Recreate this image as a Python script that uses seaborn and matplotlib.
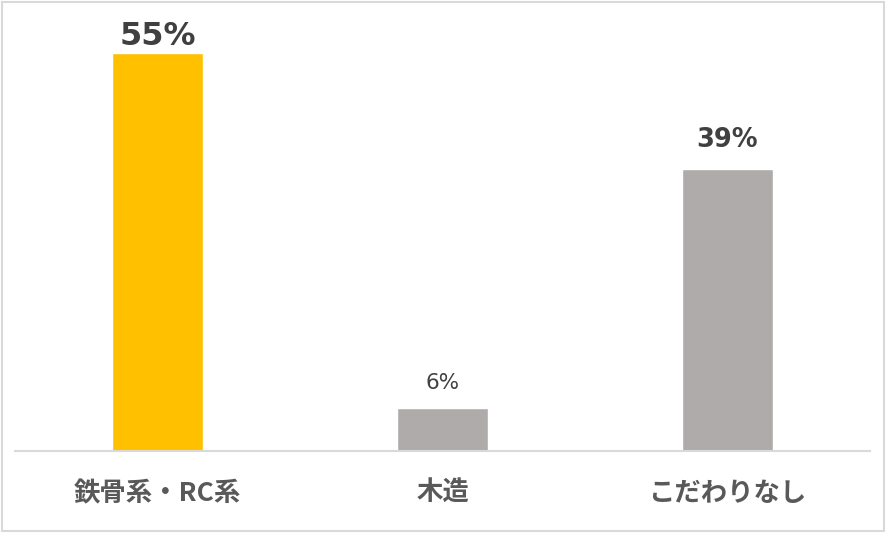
import matplotlib
matplotlib.use("Agg")
import matplotlib.pyplot as plt
import seaborn as sns
import pandas as pd
from matplotlib.patches import Rectangle

categories = ["鉄骨系・RC系", "木造", "こだわりなし"]
values = [55, 6, 39]
labels = ["55%", "6%", "39%"]
colors = ["#FFC000", "#AFABAB", "#AFABAB"]

sns.set_theme(style="white")
plt.rcParams["font.family"] = ["Noto Sans CJK JP", "DejaVu Sans"]

data = pd.DataFrame({"category": categories, "value": values})

fig = plt.figure(figsize=(8.86, 5.33), dpi=100)
ax = fig.add_axes([15 / 886, 82 / 533, 855 / 886, 441 / 533])

sns.barplot(data=data, x="category", y="value", hue="category",
            palette=colors, width=0.316, legend=False, ax=ax, saturation=1)

ax.set_xlim(-0.5, 2.5)
ax.set_ylim(0, 61)
ax.set_yticks([])
ax.set_xlabel("")
ax.set_ylabel("")
for side in ["top", "left", "right"]:
    ax.spines[side].set_visible(False)
ax.spines["bottom"].set_color("#D9D9D9")
ax.spines["bottom"].set_linewidth(1.5)
ax.tick_params(axis="x", length=0, pad=21)
for t in ax.get_xticklabels():
    t.set_fontsize(19)
    t.set_fontweight("bold")
    t.set_color("#595959")

# data labels: (font size, weight, gap above bar in points)
styles = [(23, "bold", 5.8), (15.5, "normal", 13.7), (18.5, "bold", 15.8)]
for i, (v, lab) in enumerate(zip(values, labels)):
    size, weight, gap = styles[i]
    ax.annotate(lab, (i, v), xytext=(0, gap), textcoords="offset points",
                ha="center", va="baseline", fontsize=size, fontweight=weight,
                color="#404040", family=["DejaVu Sans"])

fig.patches.append(Rectangle((0.002, 0.003), 0.996, 0.994, transform=fig.transFigure,
                             fill=False, edgecolor="#D9D9D9", linewidth=1.5))

fig.savefig("out.png", dpi=100)
